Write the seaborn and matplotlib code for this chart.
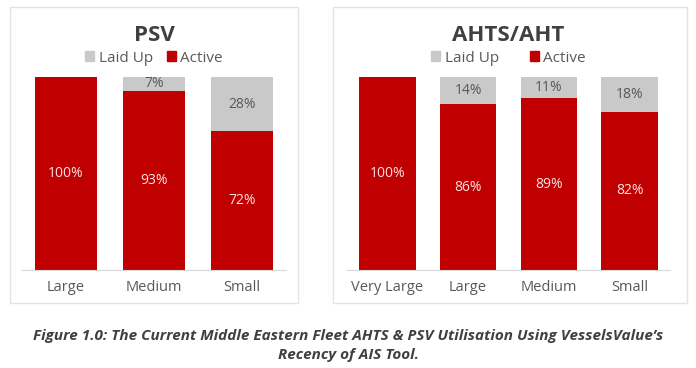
import matplotlib
matplotlib.use("Agg")
import matplotlib.pyplot as plt
import seaborn as sns
import numpy as np
from matplotlib.patches import Rectangle, Patch

# data (% of fleet)
psv_sizes = ['Large', 'Medium', 'Small']
psv_active = [100, 93, 72]
psv_laidup = [0, 7, 28]

ahts_sizes = ['Very Large', 'Large', 'Medium', 'Small']
ahts_active = [100, 86, 89, 82]
ahts_laidup = [0, 14, 11, 18]

RED = '#C00000'
GREY = '#C9C9C9'
TXT = '#595959'

sns.set_style("white")
plt.rcParams['font.family'] = ['Open Sans', 'DejaVu Sans']

W, H = 696, 368
fig = plt.figure(figsize=(W / 100, H / 100), dpi=100)


def px_axes(x0, x1, y_top, y_bot):
    return fig.add_axes([x0 / W, 1 - y_bot / H, (x1 - x0) / W, (y_bot - y_top) / H])


def draw_panel(ax, title, sizes, active, laidup, colspace):
    total = [a + l for a, l in zip(active, laidup)]
    sns.barplot(x=sizes, y=total, color=GREY, width=0.7, saturation=1, linewidth=0, ax=ax)
    sns.barplot(x=sizes, y=active, color=RED, width=0.7, saturation=1, linewidth=0, ax=ax)
    ax.set_ylim(0, 100)
    ax.set_xlim(-0.5, len(sizes) - 0.5)
    ax.set_yticks([])
    for s in ['top', 'left', 'right']:
        ax.spines[s].set_visible(False)
    ax.spines['bottom'].set_color('#D9D9D9')
    ax.tick_params(axis='x', length=0, labelsize=10.5, labelcolor=TXT, pad=7)
    for i, (a, l) in enumerate(zip(active, laidup)):
        ax.text(i, a / 2, f'{a}%', ha='center', va='center', color='#FBE3E3', fontsize=10)
        if l > 0:
            ax.text(i, a + l / 2, f'{l}%', ha='center', va='center', color=TXT, fontsize=10)
    ax.set_title(title, fontsize=16, fontweight='bold', color='#404040', pad=26)
    handles = [Patch(color=GREY, label='Laid Up'), Patch(color=RED, label='Active')]
    ax.legend(handles=handles, loc='lower center', bbox_to_anchor=(0.5, 1.02), ncol=2,
              frameon=False, fontsize=11, labelcolor=TXT, handlelength=0.6,
              handleheight=0.6, handletextpad=0.3, columnspacing=colspace, borderaxespad=0.1)


ax1 = px_axes(22, 286, 77, 270)
draw_panel(ax1, 'PSV', psv_sizes, psv_active, psv_laidup, 0.9)

ax2 = px_axes(347, 670, 77, 270)
draw_panel(ax2, 'AHTS/AHT', ahts_sizes, ahts_active, ahts_laidup, 2.0)

# panel frames
for x0, x1 in [(10, 298), (333, 687)]:
    fig.add_artist(Rectangle((x0 / W, 1 - 303 / H), (x1 - x0) / W, 296 / H,
                             transform=fig.transFigure, fill=False,
                             edgecolor='#E3E3E3', linewidth=1))

fig.text(0.5, 1 - 336 / H,
         'Figure 1.0: The Current Middle Eastern Fleet AHTS & PSV Utilisation Using VesselsValue\u2019s',
         ha='center', va='center', fontsize=11, fontweight='bold', style='italic', color='#404040')
fig.text(0.5, 1 - 355 / H, 'Recency of AIS Tool.',
         ha='center', va='center', fontsize=11, fontweight='bold', style='italic', color='#404040')

fig.savefig('out.png', dpi=100)
